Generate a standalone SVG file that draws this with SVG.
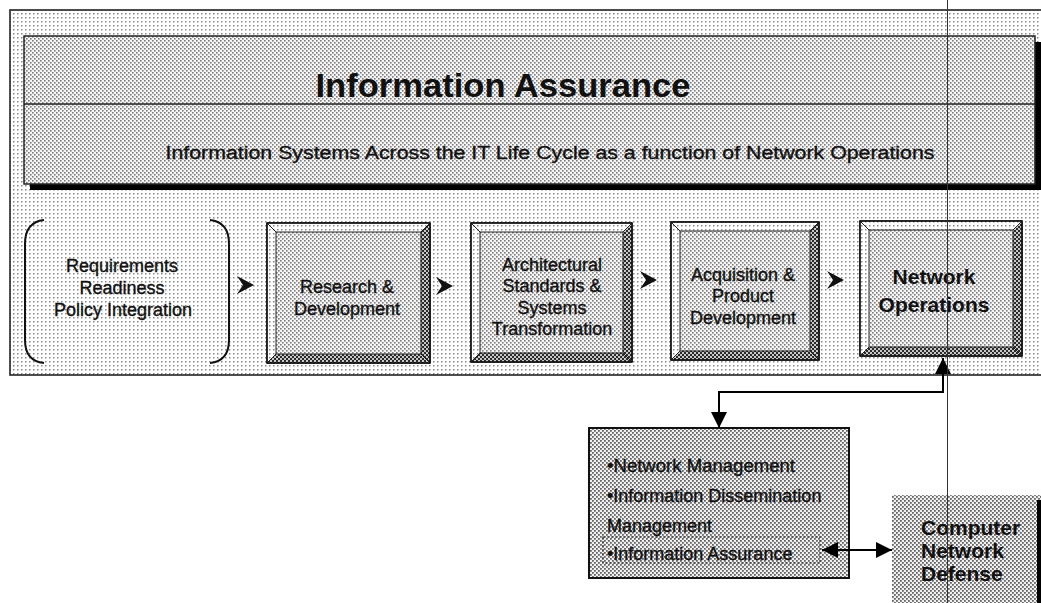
<svg xmlns="http://www.w3.org/2000/svg" width="1041" height="603" viewBox="0 0 1041 603">
<defs>
<pattern id="pLight" width="4" height="4" patternUnits="userSpaceOnUse"><rect width="4" height="4" fill="#fff"/><rect x="1" y="1" width="1.5" height="1.5" fill="#888"/></pattern>
<pattern id="pMed" width="4" height="4" patternUnits="userSpaceOnUse"><rect width="4" height="4" fill="#f6f6f6"/><rect x="0" y="0" width="1.6" height="1.6" fill="#7c7c7c"/><rect x="2" y="2" width="1.6" height="1.6" fill="#7c7c7c"/></pattern>
<pattern id="pMed2" width="4" height="4" patternUnits="userSpaceOnUse"><rect width="4" height="4" fill="#f0f0f0"/><rect x="0" y="0" width="1.8" height="1.8" fill="#666"/><rect x="2" y="2" width="1.8" height="1.8" fill="#666"/></pattern>
<pattern id="pDark" width="4" height="4" patternUnits="userSpaceOnUse"><rect width="4" height="4" fill="#c8c8c8"/><rect x="0" y="0" width="2" height="2" fill="#2a2a2a"/><rect x="2" y="2" width="2" height="2" fill="#2a2a2a"/></pattern>
<marker id="ah" viewBox="0 0 10 10" refX="10" refY="5" markerWidth="16" markerHeight="16" markerUnits="userSpaceOnUse" orient="auto-start-reverse"><path d="M0,0 L10,5 L0,10 Z" fill="#000"/></marker>
<marker id="ah2" viewBox="0 0 10 10" refX="10" refY="5" markerWidth="18" markerHeight="16" markerUnits="userSpaceOnUse" orient="auto-start-reverse"><path d="M0,0 L10,5 L0,10 Z" fill="#000"/></marker>
<style>
text{font-family:"Liberation Sans",Arial,sans-serif;fill:#111}
.t18{font-size:18px;text-anchor:middle;stroke:#111;stroke-width:0.35}
.b21{font-size:21px;font-weight:bold;text-anchor:middle}
.lst{font-size:18px;stroke:#111;stroke-width:0.35}
.cnd{font-size:21px;font-weight:bold}
.edge{stroke:#222;stroke-width:1}
.lite{fill:url(#pLight)}
.dark{fill:url(#pDark)}
.face{fill:url(#pMed)}
.chev{fill:#111}
.conn{fill:none;stroke:#000;stroke-width:2}
</style>
</defs>
<rect width="1041" height="603" fill="#fff"/>

<g id="frame">
<rect x="10" y="10" width="1040" height="365" fill="url(#pLight)" stroke="#222" stroke-width="1.6"/>
</g>

<g id="title-box">
<rect x="30" y="42" width="1011" height="148" fill="#000"/>
<rect x="24" y="36" width="1011" height="148" fill="url(#pMed)" stroke="#222" stroke-width="1.5"/>
<line x1="24" y1="104" x2="1035" y2="104" stroke="#222" stroke-width="1.5"/>
<text x="503" y="97" font-size="33" font-weight="bold" text-anchor="middle" textLength="375" lengthAdjust="spacingAndGlyphs">Information Assurance</text>
<text x="550" y="159" font-size="18" text-anchor="middle" textLength="769" lengthAdjust="spacingAndGlyphs" stroke="#111" stroke-width="0.35">Information Systems Across the IT Life Cycle as a function of Network Operations</text>
</g>

<g id="requirements">
<path d="M44,220 Q25,222 25,244 L25,340 Q25,361 44,363" fill="none" stroke="#111" stroke-width="2"/>
<path d="M210,220 Q229,222 229,244 L229,340 Q229,361 210,363" fill="none" stroke="#111" stroke-width="2"/>
<text class="t18" x="122" y="272">Requirements</text>
<text class="t18" x="122" y="294">Readiness</text>
<text class="t18" x="123" y="316">Policy Integration</text>
</g>

<g id="chevrons">
<path class="chev" d="M237,276 L254,285 L237,294 L243,285 Z"/>
<path class="chev" d="M436,277 L453,286 L436,295 L442,286 Z"/>
<path class="chev" d="M640,271 L657,280 L640,289 L646,280 Z"/>
<path class="chev" d="M827,271 L844,280 L827,289 L833,280 Z"/>
</g>

<g id="research">
<rect x="267" y="223" width="163" height="140" class="face edge"/>
<path class="lite edge" d="M267,223 L430,223 L421,232 L276,232 Z"/>
<path class="lite edge" d="M267,223 L276,232 L276,354 L267,363 Z"/>
<path class="dark edge" d="M430,223 L430,363 L421,354 L421,232 Z"/>
<path class="dark edge" d="M267,363 L430,363 L421,354 L276,354 Z"/>
<rect x="267" y="223" width="163" height="140" fill="none" stroke="#111" stroke-width="1.5"/>
<text class="t18" x="347" y="293">Research &amp;</text>
<text class="t18" x="347" y="315">Development</text>
</g>

<g id="architectural">
<rect x="471" y="223" width="161" height="139" class="face edge"/>
<path class="lite edge" d="M471,223 L632,223 L623,232 L480,232 Z"/>
<path class="lite edge" d="M471,223 L480,232 L480,353 L471,362 Z"/>
<path class="dark edge" d="M632,223 L632,362 L623,353 L623,232 Z"/>
<path class="dark edge" d="M471,362 L632,362 L623,353 L480,353 Z"/>
<rect x="471" y="223" width="161" height="139" fill="none" stroke="#111" stroke-width="1.5"/>
<text class="t18" x="552" y="271">Architectural</text>
<text class="t18" x="552" y="292">Standards &amp;</text>
<text class="t18" x="552" y="314">Systems</text>
<text class="t18" x="552" y="335">Transformation</text>
</g>

<g id="acquisition">
<rect x="671" y="222" width="148" height="138" class="face edge"/>
<path class="lite edge" d="M671,222 L819,222 L810,231 L680,231 Z"/>
<path class="lite edge" d="M671,222 L680,231 L680,351 L671,360 Z"/>
<path class="dark edge" d="M819,222 L819,360 L810,351 L810,231 Z"/>
<path class="dark edge" d="M671,360 L819,360 L810,351 L680,351 Z"/>
<rect x="671" y="222" width="148" height="138" fill="none" stroke="#111" stroke-width="1.5"/>
<text class="t18" x="743" y="281">Acquisition &amp;</text>
<text class="t18" x="743" y="302">Product</text>
<text class="t18" x="743" y="324">Development</text>
</g>

<g id="network-operations">
<rect x="860" y="221" width="162" height="135" class="face edge"/>
<path class="lite edge" d="M860,221 L1022,221 L1013,230 L869,230 Z"/>
<path class="lite edge" d="M860,221 L869,230 L869,347 L860,356 Z"/>
<path class="dark edge" d="M1022,221 L1022,356 L1013,347 L1013,230 Z"/>
<path class="dark edge" d="M860,356 L1022,356 L1013,347 L869,347 Z"/>
<rect x="860" y="221" width="162" height="135" fill="none" stroke="#111" stroke-width="1.5"/>
<text class="b21" x="934" y="284">Network</text>
<text class="b21" x="934" y="312">Operations</text>
</g>

<g id="netops-functions">
<rect x="589" y="428" width="260" height="150" fill="url(#pMed2)" stroke="#111" stroke-width="2"/>
<text class="lst" x="607" y="472" textLength="188" lengthAdjust="spacingAndGlyphs">•Network Management</text>
<text class="lst" x="607" y="502">•Information Dissemination</text>
<text class="lst" x="607" y="532">Management</text>
<rect x="603" y="537" width="217" height="26" fill="none" stroke="#333" stroke-width="1.2" stroke-dasharray="2,2"/>
<text class="lst" x="607" y="560">•Information Assurance</text>
</g>

<g id="computer-network-defense">
<rect x="892" y="495" width="149" height="108" fill="url(#pMed2)"/>
<rect x="1037" y="500" width="4" height="103" fill="#000"/>
<text class="cnd" x="921" y="535">Computer</text>
<text class="cnd" x="921" y="558">Network</text>
<text class="cnd" x="921" y="581">Defense</text>
</g>

<g id="connectors">
<path class="conn" d="M943,358 L943,392 L719,392 L719,428" marker-start="url(#ah)" marker-end="url(#ah)"/>
<path class="conn" d="M822,550 L892,550" marker-start="url(#ah2)" marker-end="url(#ah2)"/>
</g>

<line x1="947.5" y1="0" x2="947.5" y2="603" stroke="#333" stroke-width="1"/>
</svg>
